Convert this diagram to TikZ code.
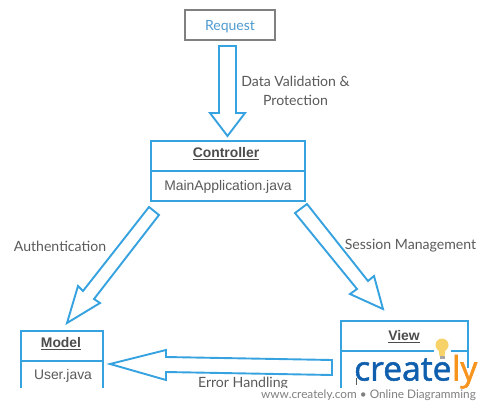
\documentclass[tikz,border=0pt]{standalone}
\usepackage{fontspec}
\usetikzlibrary{calc}
\setmainfont{Lato}
\newfontfamily\arialf{Liberation Sans}
\newfontfamily\logof[AutoFakeBold=1.6]{Open Sans}
\definecolor{cblue}{HTML}{36A2DF}
\definecolor{cgray}{HTML}{808080}
\definecolor{ctext}{HTML}{5A5A5A}
\definecolor{creq}{HTML}{4F9BD0}
\definecolor{clogo}{HTML}{0F5FAE}
\definecolor{corange}{HTML}{F7941E}
\definecolor{cbulb}{HTML}{F6D268}
\tikzset{
  x=1pt,y=-1pt,
  umlbox/.style={draw=cblue,line width=2pt,fill=white,inner sep=0pt,outer sep=0pt},
  blockarrow/.style={draw=cblue,line width=1.9pt,fill=white,line join=miter},
  reqbox/.style={draw=cgray,line width=2pt,fill=white,inner sep=0pt,outer sep=0pt},
  lbl/.style={font=\fontsize{14.1}{19}\selectfont,text=ctext,align=center,inner sep=0pt},
  ttl/.style={font=\arialf\bfseries\fontsize{13.9}{15}\selectfont,text=black!70,inner sep=0pt},
  bodytxt/.style={font=\arialf\fontsize{13.9}{16}\selectfont,text=ctext,inner sep=0pt},
  logotxt/.style={font=\logof\bfseries\fontsize{33.6}{34}\selectfont,inner sep=0pt},
}
\begin{document}
\begin{tikzpicture}
\useasboundingbox (0,0) rectangle (490,410);
\fill[white] (0,0) rectangle (490,410);
% request
\node[reqbox,minimum width=90pt,minimum height=30pt] (req) at (230,25) {};
\node[font=\fontsize{14}{16}\selectfont,text=creq,inner sep=0pt] (reqT) at (230,27) {Request};
% block arrows
\draw[blockarrow] (219,46) -- (236,46) -- (236,113) -- (245,113) -- (227.5,136) -- (210,113) -- (219,113) -- cycle;
\draw[blockarrow] (149,207) -- (159,215) -- (94,299) -- (100,303) -- (67,323) -- (78,286) -- (83,291) -- cycle;
\draw[blockarrow] (307,204) -- (295,213) -- (357,289) -- (350,294) -- (383,309) -- (374,276) -- (368,281) -- cycle;
\draw[blockarrow] (332,360) -- (332,375) -- (166,372) -- (166,380) -- (110,364) -- (166,350) -- (166,357) -- cycle;
% controller
\node[umlbox,minimum width=154pt,minimum height=60pt] (ctrl) at (228,171) {};
\draw[cblue,line width=2pt] (ctrl.west) -- (ctrl.east);
\node[ttl] (ctrlT) at (226,153.5) {\underline{Controller}};
\node[bodytxt] (ctrlB) at (228,187) {MainApplication.java};
% model
\node[umlbox,minimum width=82pt,minimum height=60pt] (model) at (62,361) {};
\draw[cblue,line width=2pt] (model.west) -- (model.east);
\node[ttl] (modelT) at (61,343.5) {\underline{Model}};
\node[bodytxt] (modelB) at (63,376) {User.java};
% view
\node[umlbox,minimum width=127pt,minimum height=80pt] (view) at (404.5,361) {};
\coordinate (vl) at ($(view.north west)+(0,30)$);
\coordinate (vr) at ($(view.north east)+(0,30)$);
\draw[cblue,line width=2pt] (vl) -- (vr);
\node[ttl] (viewT) at (404,337) {\underline{View}};
% labels
\node[lbl] (lreq) at (295.5,91) {Data Validation \&\\Protection};
\node[lbl] (lauth) at (60,246) {Authentication};
\node[lbl] (lsess) at (410.5,246) {Session Management};
\node[lbl] (lerr) at (243,384) {Error Handling};
% watermark
\fill[white] (0,388) rectangle (490,410);
\fill[white] (357,360) rectangle (467,388);
\fill[white] (467,368) rectangle (471,388);
\fill[white] (343,386) rectangle (490,388);
\fill[white] (434,348) rectangle (451,352.5);
\draw[ctext,line width=0.8pt] (356,378) -- (356,385);
\node[font=\fontsize{11.8}{14}\selectfont,text=cgray,inner sep=0pt] (wm) at (368.5,395) {www.creately.com • Online Diagramming};
\node[logotxt,text=clogo,anchor=base west] (lc) at (354,380.5) {create};
\node[logotxt,text=corange,anchor=base west] (lo) at (lc.base east) {ly};
\fill[cbulb] (442,345) ellipse (6.5 and 6.5);
\fill[cbulb] (438.5,349) -- (445.5,349) -- (444.5,356) -- (439.5,356) -- cycle;
\fill[gray!70] (439.5,356) rectangle (444.5,358.5);
\end{tikzpicture}
\end{document}
